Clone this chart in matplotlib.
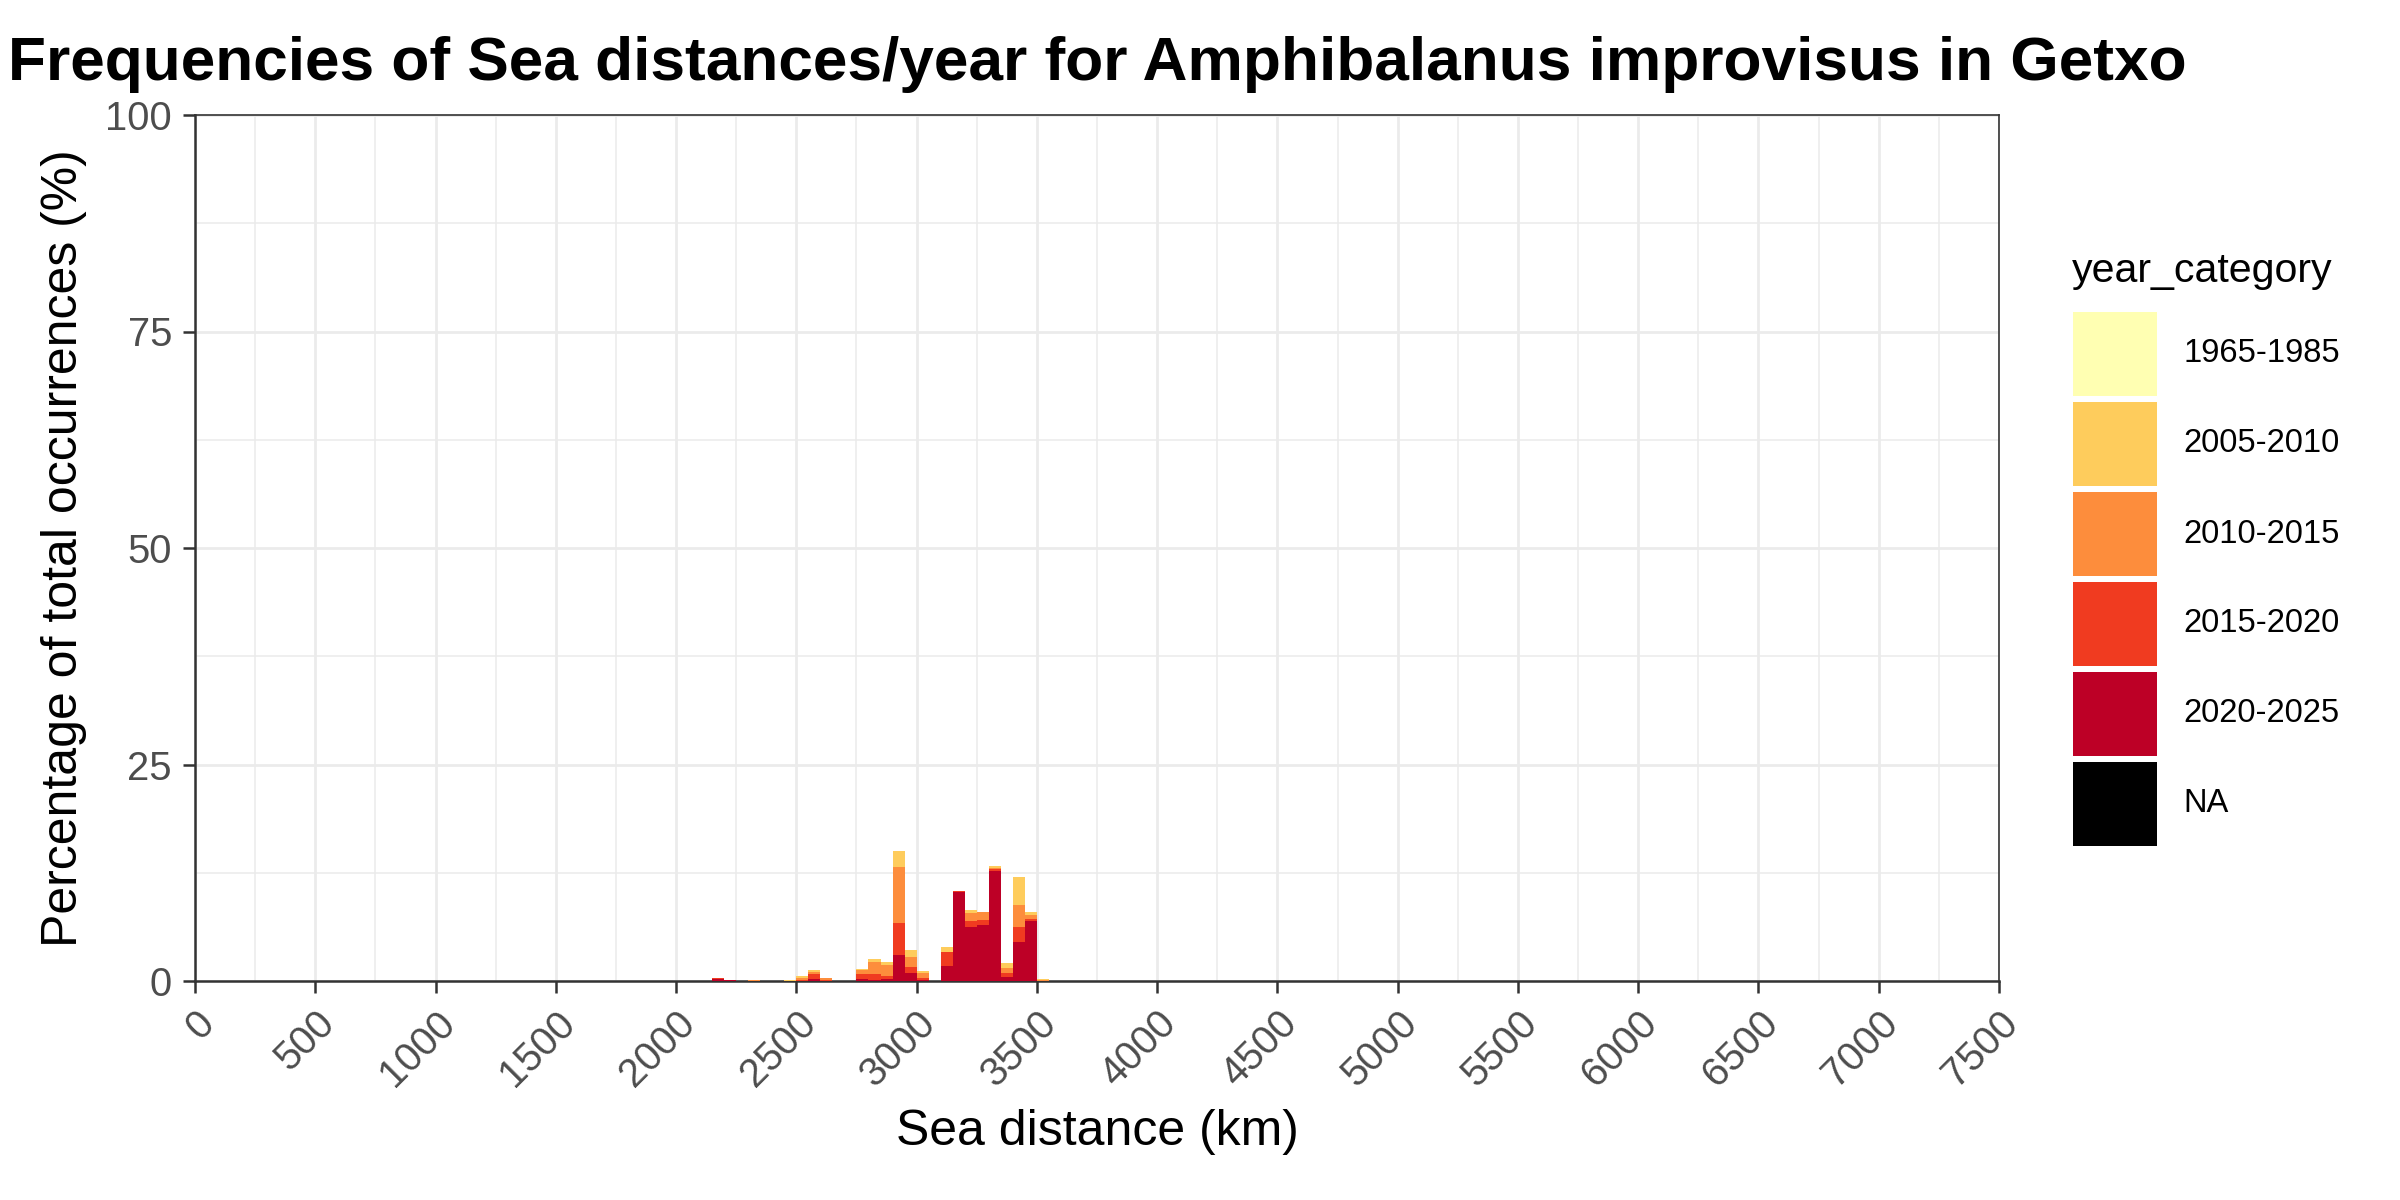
import matplotlib
matplotlib.use("Agg")
import matplotlib.pyplot as plt
from matplotlib.patches import Rectangle
import numpy as np

plt.rcParams['font.family'] = ['Liberation Sans', 'DejaVu Sans']

# classes de distancia (inicio de cada bin de 50 km)
bin_start = [2150, 2200, 2300, 2450, 2500, 2550, 2600, 2750, 2800, 2850, 2900,
             2950, 3000, 3100, 3150, 3200, 3250, 3300, 3350, 3400, 3450, 3500]
bin_width = 50

categorias = ["1965-1985", "2005-2010", "2010-2015", "2015-2020", "2020-2025", "NA"]
cores = ["#FFFFB2", "#FECC5C", "#FD8D3C", "#F03B20", "#BD0026", "#000000"]

# percentagens por categoria
pct_1965 = [0, 0, 0, 0, 0, 0, 0, 0, 0, 0, 0, 0, 0, 0, 0, 0, 0, 0, 0, 0, 0, 0]
pct_2005 = [0, 0, 0, 0.10, 0.23, 0.23, 0, 0.12, 0.35, 0.35, 1.85,
            0.81, 0.23, 0.58, 0, 0.35, 0, 0.23, 0.58, 3.23, 0.35, 0.12]
pct_2010 = [0, 0, 0.10, 0, 0.23, 0.31, 0.15, 0.46, 1.38, 1.27, 6.46,
            1.15, 0.58, 0, 0, 0.92, 0.92, 0.15, 0.58, 2.54, 0.46, 0.12]
pct_2015 = [0.12, 0, 0, 0, 0.08, 0.50, 0.15, 0.58, 0.62, 0.35, 3.69,
            0.69, 0.19, 1.62, 0.12, 0.69, 0.58, 0.19, 0.46, 1.73, 0.23, 0]
pct_2020 = [0.27, 0.06, 0, 0, 0, 0.27, 0, 0.19, 0.15, 0.19, 2.96,
            0.88, 0.12, 1.69, 10.23, 6.19, 6.42, 12.69, 0.42, 4.46, 6.88, 0]
pct_na = [0, 0, 0, 0, 0, 0, 0, 0, 0, 0, 0, 0, 0, 0, 0, 0, 0, 0, 0, 0, 0, 0]

x_ticks = list(range(0, 7501, 500))
y_ticks = [0, 25, 50, 75, 100]

W, H = 2400, 1200
fig = plt.figure(figsize=(12, 6), dpi=200)
ax = fig.add_axes([195 / W, 1 - 981 / H, (1999 - 195) / W, (981 - 115) / H])

# empilhamento: NA em baixo, 1965-1985 no topo
series = [pct_na, pct_2020, pct_2015, pct_2010, pct_2005, pct_1965]
cores_stack = [cores[5], cores[4], cores[3], cores[2], cores[1], cores[0]]
base = np.zeros(len(bin_start))
for vals, cor in zip(series, cores_stack):
    vals = np.array(vals, dtype=float)
    ax.bar(bin_start, vals, width=bin_width, align='edge', bottom=base,
           color=cor, linewidth=0, zorder=3)
    base += vals

ax.set_xlim(0, 7500)
ax.set_ylim(0, 100)
ax.set_xticks(x_ticks)
ax.set_xticklabels([str(t) for t in x_ticks], rotation=45, ha='right', va='top',
                   rotation_mode='anchor')
ax.set_yticks(y_ticks)
ax.set_xticks(np.arange(250, 7500, 500), minor=True)
ax.set_yticks([12.5, 37.5, 62.5, 87.5], minor=True)

ax.grid(which='major', color='#EBEBEB', linewidth=1.0, zorder=0)
ax.grid(which='minor', color='#EBEBEB', linewidth=0.55, zorder=0)
ax.set_axisbelow(True)

ax.tick_params(which='major', length=4.3, width=0.9, color='#333333',
               labelsize=14.4, labelcolor='#4D4D4D')
ax.tick_params(axis='x', which='major', pad=4)
ax.tick_params(axis='y', which='major', pad=4)
ax.tick_params(which='minor', length=0)

for lado in ['top', 'right']:
    ax.spines[lado].set_color('#333333')
    ax.spines[lado].set_linewidth(0.6)
for lado in ['bottom', 'left']:
    ax.spines[lado].set_color('#333333')
    ax.spines[lado].set_linewidth(0.9)

fig.text(8 / W, 1 - 80 / H,
         "Frequencies of Sea distances/year for Amphibalanus improvisus in Getxo",
         fontsize=22.4, fontweight='bold', ha='left', va='baseline')
fig.text(1097 / W, 1 - 1145 / H, "Sea distance (km)", fontsize=18,
         ha='center', va='baseline')
fig.text(64 / W, 1 - 548 / H, "Percentage of total occurrences (%)", fontsize=18,
         rotation=90, ha='center', va='center')

# legenda feita a mao
fig.text(2072 / W, 1 - 282 / H, "year_category", fontsize=14.8, ha='left', va='baseline')
topo = 312
for cat, cor in zip(categorias, cores):
    fig.add_artist(Rectangle((2073 / W, 1 - (topo + 84) / H), 84 / W, 84 / H,
                             transform=fig.transFigure, facecolor=cor, edgecolor='none'))
    fig.text(2183 / W, 1 - (topo + 42) / H, cat, fontsize=11.8, ha='left', va='center')
    topo += 90

fig.savefig("out.png", dpi=200)
